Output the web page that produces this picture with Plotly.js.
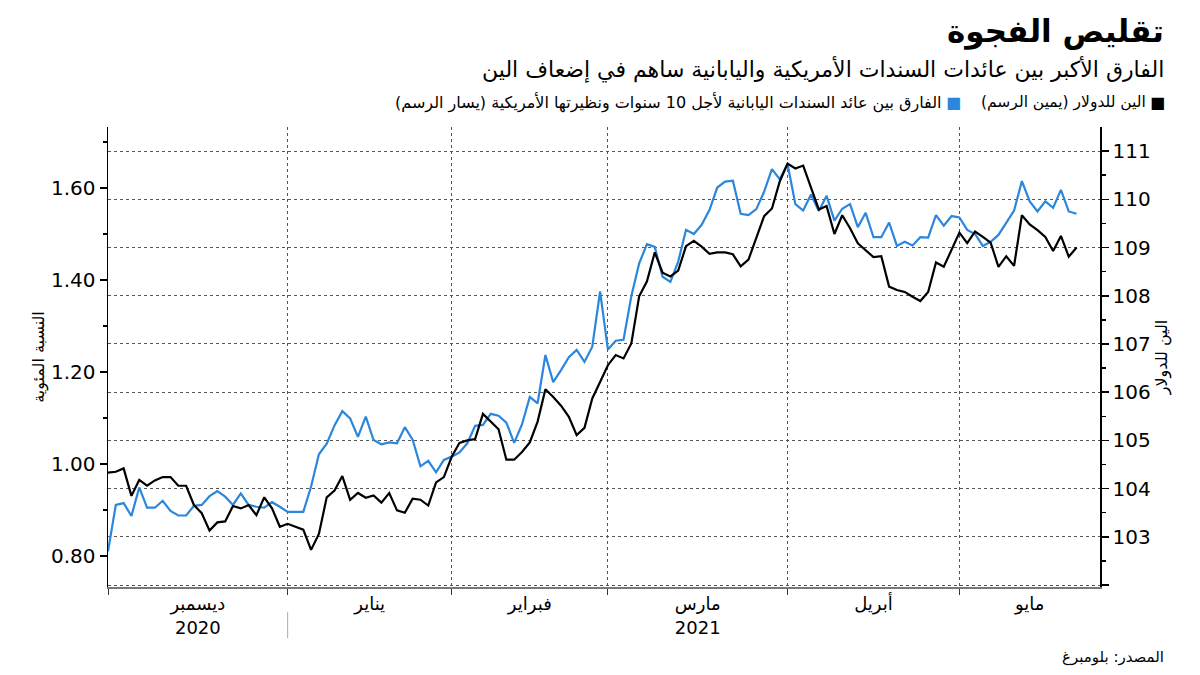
<!DOCTYPE html>
<html>
<head>
<meta charset="utf-8">
<script src="https://cdn.plot.ly/plotly-3.0.1.min.js"></script>
<style>
  body { margin: 0; background: #fff; }
  #plotArea { width: 1200px; height: 675px; }
</style>
</head>
<body>
<div id="plotArea"></div>
<script>
// trading days (weekdays) per month, Dec 2020 - May 2021
let decDays = [1,2,3,4,7,8,9,10,11,14,15,16,17,18,21,22,23,24,25,28,29,30,31];
let janDays = [1,4,5,6,7,8,11,12,13,14,15,18,19,20,21,22,25,26,27,28,29];
let febDays = [1,2,3,4,5,8,9,10,11,12,15,16,17,18,19,22,23,24,25,26];
let marDays = [1,2,3,4,5,8,9,10,11,12,15,16,17,18,19,22,23,24,25,26,29,30,31];
let aprDays = [1,2,5,6,7,8,9,12,13,14,15,16,19,20,21,22,23,26,27,28,29,30];
let mayDays = [3,4,5,6,7,10,11,12,13,14,17,18,19,20,21,24];

// yen per dollar (right axis)
let yenPerDollar = [
  104.33,104.35,104.42,103.85,104.18,104.06,104.17,104.24,104.24,104.06,104.06,103.66,103.49,103.13,103.30,103.32,103.64,103.59,103.66,103.45,103.82,103.59,103.21,
  103.27,103.21,103.15,102.73,103.06,103.82,103.96,104.26,103.77,103.91,103.81,103.86,103.71,103.91,103.55,103.50,103.79,103.77,103.65,104.13,104.24,
  104.66,104.95,105.00,105.03,105.55,105.39,105.23,104.60,104.60,104.76,104.96,105.39,106.06,105.90,105.72,105.49,105.11,105.26,105.87,106.21,
  106.56,106.77,106.70,107.01,107.99,108.30,108.90,108.48,108.40,108.52,109.03,109.14,109.02,108.87,108.90,108.90,108.86,108.61,108.75,109.20,109.65,109.81,110.37,
  110.74,110.64,110.70,110.23,109.79,109.86,109.28,109.67,109.40,109.09,108.95,108.80,108.82,108.19,108.12,108.08,107.98,107.89,108.08,108.69,108.60,108.95,
  109.31,109.09,109.33,109.22,109.10,108.60,108.82,108.62,109.67,109.48,109.36,109.22,108.93,109.24,108.81,109.00
];

// US-Japan 10y yield spread, percent (left axis)
let yieldSpread = [
  0.81,0.911,0.915,0.887,0.949,0.905,0.905,0.920,0.898,0.888,0.888,0.909,0.911,0.930,0.941,0.929,0.911,0.936,0.911,0.907,0.905,0.917,0.907,
  0.896,0.896,0.896,0.951,1.021,1.044,1.084,1.115,1.099,1.059,1.103,1.052,1.043,1.047,1.045,1.080,1.053,0.995,1.007,0.982,1.009,
  1.016,1.025,1.045,1.083,1.085,1.109,1.105,1.090,1.046,1.086,1.146,1.132,1.237,1.178,1.204,1.232,1.248,1.222,1.255,1.375,
  1.249,1.268,1.270,1.365,1.436,1.478,1.472,1.407,1.396,1.440,1.509,1.500,1.520,1.552,1.601,1.614,1.616,1.544,1.541,1.554,1.592,1.641,1.619,
  1.652,1.565,1.551,1.586,1.550,1.583,1.529,1.555,1.565,1.515,1.546,1.493,1.493,1.525,1.474,1.483,1.475,1.493,1.492,1.541,1.518,1.539,
  1.536,1.509,1.500,1.474,1.483,1.498,1.525,1.551,1.615,1.571,1.549,1.571,1.557,1.596,1.549,1.544
];

let monthStarts = ["2020-12-01","2021-01-01","2021-02-01","2021-03-01","2021-04-01","2021-05-03"];
let monthMids = ["2020-12-16 12:00","2021-01-15 12:00","2021-02-15","2021-03-16 12:00","2021-04-16","2021-05-14"];
let monthNames = ["ديسمبر<br>2020","يناير","فبراير","مارس<br>2021","أبريل","مايو"];

let leftTicks = [0.8, 1.0, 1.2, 1.4, 1.6];
let leftMinor = [0.9, 1.1, 1.3, 1.5, 1.7];
let rightTicks = [102,103,104,105,106,107,108,109,110,111];
let rightLabels = ["","103","104","105","106","107","108","109","110","111"];
let rightMinor = [102.5,103.5,104.5,105.5,106.5,107.5,108.5,109.5,110.5];

function pad(n) { return n < 10 ? "0" + n : "" + n; }
let dates = [];
[["2020-12", decDays], ["2021-01", janDays], ["2021-02", febDays],
 ["2021-03", marDays], ["2021-04", aprDays], ["2021-05", mayDays]].forEach(function (m) {
  m[1].forEach(function (d) { dates.push(m[0] + "-" + pad(d)); });
});

let blue = "#2b87dc";
let RLM = "\u200F";

let spreadTrace = {
  x: dates, y: yieldSpread, yaxis: "y",
  type: "scatter", mode: "lines",
  line: { color: blue, width: 2.2 },
  hoverinfo: "skip"
};
let yenTrace = {
  x: dates, y: yenPerDollar, yaxis: "y2",
  type: "scatter", mode: "lines",
  line: { color: "#000", width: 2.2 },
  hoverinfo: "skip"
};

// paper coords from page pixels (plot area 108..1100, 127..587)
function px(x) { return (x - 108) / 992; }
function py(y) { return (587 - y) / 460; }

let layout = {
  width: 1200, height: 675,
  margin: { l: 108, r: 100, t: 127, b: 88 },
  paper_bgcolor: "#fff", plot_bgcolor: "#fff",
  font: { family: "DejaVu Sans, sans-serif", color: "#000", size: 16 },
  showlegend: false,
  xaxis: {
    type: "date",
    range: ["2020-12-01", "2021-05-27"],
    rangebreaks: [{ bounds: ["sat", "mon"] }],
    tickmode: "array", tickvals: monthMids, ticktext: monthNames,
    ticks: "", showgrid: false, zeroline: false,
    showline: true, linecolor: "#777", linewidth: 1.5,
    tickfont: { size: 18 },
    minor: {
      tickmode: "array", tickvals: monthStarts,
      ticks: "outside", ticklen: 6, tickcolor: "#333",
      showgrid: true, gridcolor: "#555", gridwidth: 1, griddash: "3px,3px"
    },
    fixedrange: true
  },
  yaxis: {
    range: [0.7326, 1.7326],
    tickmode: "array", tickvals: leftTicks, tickformat: ".2f",
    ticks: "outside", ticklen: 7, tickwidth: 1.5, tickcolor: "#000",
    showline: true, linecolor: "#000", linewidth: 1.5,
    showgrid: false, zeroline: false,
    tickfont: { size: 20 },
    title: { text: "النسبة المئوية", font: { size: 16 }, standoff: 2 },
    minor: { tickmode: "array", tickvals: leftMinor, ticks: "outside", ticklen: 4, tickcolor: "#000", showgrid: false },
    fixedrange: true
  },
  yaxis2: {
    overlaying: "y", side: "right",
    range: [101.96, 111.5],
    tickmode: "array", tickvals: rightTicks, ticktext: rightLabels,
    ticks: "outside", ticklen: 7, tickwidth: 1.5, tickcolor: "#000",
    showline: true, linecolor: "#000", linewidth: 1.5,
    showgrid: true, gridcolor: "#555", gridwidth: 1, griddash: "3px,3px",
    zeroline: false,
    tickfont: { size: 20 },
    title: { text: "الين للدولار", font: { size: 16 }, standoff: 6 },
    minor: { tickmode: "array", tickvals: rightMinor, ticks: "outside", ticklen: 4, tickcolor: "#000", showgrid: false },
    fixedrange: true
  },
  shapes: [
    { type: "line", xref: "x", yref: "paper", x0: "2021-01-01", x1: "2021-01-01",
      y0: py(612), y1: py(638), line: { color: "#aaa", width: 1 } }
  ],
  annotations: [
    { text: "<b>تقليص الفجوة</b>", xref: "paper", yref: "paper", x: px(1166), y: py(31),
      xanchor: "right", yanchor: "middle", showarrow: false, font: { size: 31 } },
    { text: "الفارق الأكبر بين عائدات السندات الأمريكية واليابانية ساهم في إضعاف الين",
      xref: "paper", yref: "paper", x: px(1166), y: py(70),
      xanchor: "right", yanchor: "middle", showarrow: false, font: { size: 22 } },
    { text: "■", xref: "paper", yref: "paper", x: px(1167), y: py(102),
      xanchor: "right", yanchor: "middle", showarrow: false, font: { size: 16, color: "#000" } },
    { text: "الين للدولار (يمين الرسم)" + RLM, xref: "paper", yref: "paper", x: px(1148), y: py(102),
      xanchor: "right", yanchor: "middle", showarrow: false, font: { size: 15.5 } },
    { text: "■", xref: "paper", yref: "paper", x: px(963), y: py(102),
      xanchor: "right", yanchor: "middle", showarrow: false, font: { size: 16, color: blue } },
    { text: "الفارق بين عائد السندات اليابانية لأجل 10 سنوات ونظيرتها الأمريكية (يسار الرسم)" + RLM,
      xref: "paper", yref: "paper", x: px(944), y: py(102),
      xanchor: "right", yanchor: "middle", showarrow: false, font: { size: 16 } },
    { text: "المصدر: بلومبرغ", xref: "paper", yref: "paper", x: px(1166), y: py(657),
      xanchor: "right", yanchor: "middle", showarrow: false, font: { size: 15 } }
  ]
};

Plotly.newPlot("plotArea", [spreadTrace, yenTrace], layout, { displayModeBar: false, staticPlot: true });
</script>
</body>
</html>
